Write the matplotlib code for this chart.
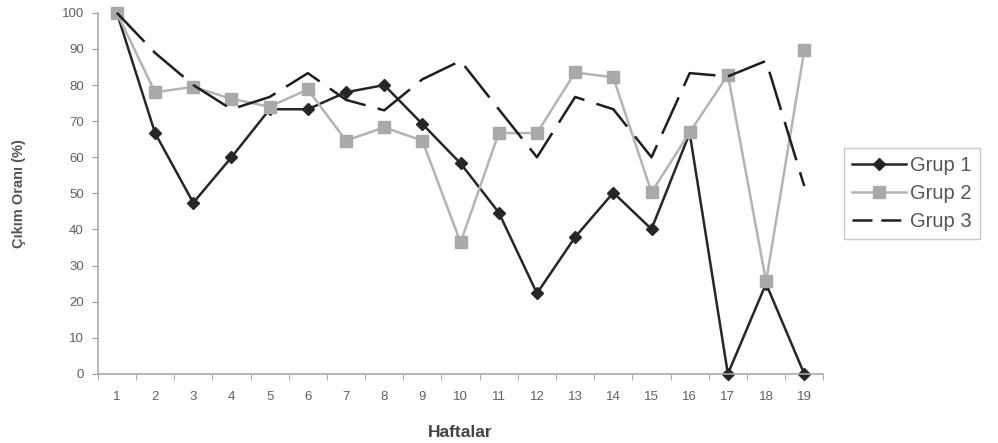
import matplotlib.pyplot as plt
import numpy as np

plt.rcParams['font.family'] = ['Liberation Sans', 'DejaVu Sans']

weeks = list(range(1, 20))
grup1 = [100, 66.7, 47.4, 60, 73.3, 73.3, 78, 80, 69.2, 58.3, 44.7, 22.3, 37.9, 50.2, 40.1, 66.7, 0, 25, 0]
grup2 = [100, 78, 79.5, 76.2, 74, 78.8, 64.6, 68.3, 64.6, 36.4, 66.7, 66.7, 83.5, 82.1, 50.3, 66.9, 82.8, 25.6, 89.6]
grup3 = [100, 88.9, 80, 73.3, 76.7, 83.3, 75.9, 73, 81.6, 86.7, 73.3, 60, 76.7, 73.3, 60, 83.3, 82.4, 86.7, 52]

fig = plt.figure(figsize=(9.98, 4.43), dpi=100)
ax = fig.add_axes([0.098, 0.156, 0.727, 0.815])

ax.plot(weeks, grup1, color='#262626', lw=1.8, marker='D', ms=6.5, clip_on=False,
        markerfacecolor='#262626', markeredgecolor='#262626', label='Grup 1')
ax.plot(weeks, grup2, color='#b4b4b4', lw=1.8, marker='s', ms=9, clip_on=False,
        markerfacecolor='#a9a9a9', markeredgecolor='#a9a9a9', label='Grup 2')
ax.plot(weeks, grup3, color='#1e1e1e', lw=1.8, dashes=(16, 5), clip_on=False, label='Grup 3')

ax.set_xlim(0.5, 19.5)
ax.set_ylim(0, 100)
ax.set_yticks(np.arange(0, 101, 10))
ax.set_xticks(weeks)
ax.set_xticks(np.arange(0.5, 19.6, 1), minor=True)
ax.tick_params(axis='x', which='major', length=0, pad=12, labelsize=9.5, labelcolor='#606060')
ax.tick_params(axis='x', which='minor', length=4, color='#999999', direction='out')
ax.tick_params(axis='y', length=4, color='#999999', labelsize=9.5, labelcolor='#606060', pad=6)

for side in ['top', 'right']:
    ax.spines[side].set_visible(False)
for side in ['left', 'bottom']:
    ax.spines[side].set_color('#aaaaaa')
    ax.spines[side].set_linewidth(1.2)

ax.set_xlabel('Haftalar', fontsize=12.5, fontweight='bold', color='#444444', labelpad=16)
ax.set_ylabel('Çıkım Oranı (%)', fontsize=10.5, fontweight='bold', color='#555555', labelpad=26)

leg = ax.legend(loc='center left', bbox_to_anchor=(1.028, 0.5), fontsize=14.5,
                frameon=True, fancybox=False, edgecolor='#bbbbbb',
                handlelength=2.7, handletextpad=0.2, borderpad=0.4, labelspacing=0.45,
                borderaxespad=0)
leg.get_frame().set_linewidth(1.0)
leg.get_lines()[2].set_dashes((8, 3.5))
for t in leg.get_texts():
    t.set_color('#555555')

fig.savefig('out.png', dpi=100)
